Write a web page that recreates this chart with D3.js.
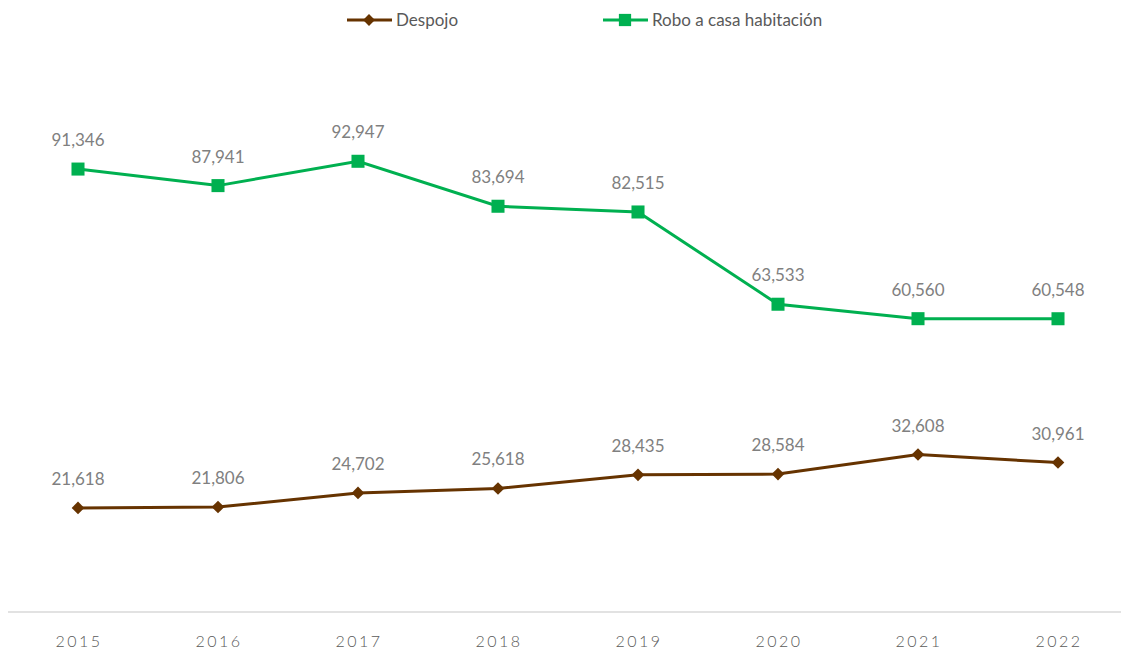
<!DOCTYPE html>
<html>
<head>
<meta charset="utf-8">
<script src="https://cdn.jsdelivr.net/npm/d3@7"></script>
<style>
  body { margin: 0; background: #fff; }
  svg text { font-family: Lato, "Open Sans", sans-serif; }
</style>
</head>
<body>
<svg id="chart"></svg>
<script>
// chart data
const years = ["2015", "2016", "2017", "2018", "2019", "2020", "2021", "2022"];
const despojo = [21618, 21806, 24702, 25618, 28435, 28584, 32608, 30961];
const robo = [91346, 87941, 92947, 83694, 82515, 63533, 60560, 60548];
const seriesNames = ["Despojo", "Robo a casa habitación"];

var width = 1121, height = 652;
var svg = d3.select("#chart").attr("width", width).attr("height", height);

const x = d3.scaleBand().domain(years).range([8, 1128]);
const y = d3.scaleLinear().domain([0, 100000]).range([613, 127]);
const cx = function (d, i) { return x(years[i]) + x.bandwidth() / 2; };

// baseline axis
svg.append("line")
    .attr("x1", 8).attr("x2", 1121)
    .attr("y1", 612).attr("y2", 612)
    .attr("stroke", "#d9d9d9").attr("stroke-width", 1.5);

// year labels
svg.selectAll(".year")
    .data(years)
    .enter().append("text")
    .attr("class", "year")
    .attr("x", function (d) { return x(d) + x.bandwidth() / 2 + 1; })
    .attr("y", 647)
    .attr("text-anchor", "middle")
    .attr("fill", "#595959")
    .style("font-size", "16px")
    .style("font-weight", "300")
    .style("letter-spacing", "2.5px")
    .text(function (d) { return d; });

var line = d3.line()
    .x(cx)
    .y(function (d) { return y(d); });

const fmt = d3.format(",");

function drawSeries(values, color, diamond, size) {
    svg.append("path")
        .datum(values)
        .attr("fill", "none")
        .attr("stroke", color)
        .attr("stroke-width", 3)
        .attr("d", line);

    svg.selectAll(null)
        .data(values)
        .enter().append("path")
        .attr("d", d3.symbol().type(d3.symbolSquare).size(size))
        .attr("transform", function (d, i) {
            return "translate(" + cx(d, i) + "," + y(d) + ")" + (diamond ? " rotate(45)" : "");
        })
        .attr("fill", color);

    svg.selectAll(null)
        .data(values)
        .enter().append("text")
        .attr("x", cx)
        .attr("y", function (d) { return y(d) - 23; })
        .attr("text-anchor", "middle")
        .attr("fill", "#808080")
        .style("font-size", "17px")
        .text(function (d) { return fmt(d); });
}

drawSeries(robo, "#00b050", false, 170);
drawSeries(despojo, "#663300", true, 80);

// legend
var legend = [
    { name: seriesNames[0], color: "#663300", x: 347, diamond: true },
    { name: seriesNames[1], color: "#00b050", x: 603, diamond: false }
];
legend.forEach(function (l) {
    var g = svg.append("g").attr("transform", "translate(" + l.x + ",20)");
    g.append("line").attr("x1", 0).attr("x2", 45).attr("stroke", l.color).attr("stroke-width", 3);
    g.append("path")
        .attr("d", d3.symbol().type(d3.symbolSquare).size(l.diamond ? 70 : 150))
        .attr("transform", "translate(22,0)" + (l.diamond ? " rotate(45)" : ""))
        .attr("fill", l.color);
    g.append("text")
        .attr("x", 49).attr("y", 6)
        .attr("fill", "#595959")
        .style("font-size", "17px")
        .text(l.name);
});
</script>
</body>
</html>
